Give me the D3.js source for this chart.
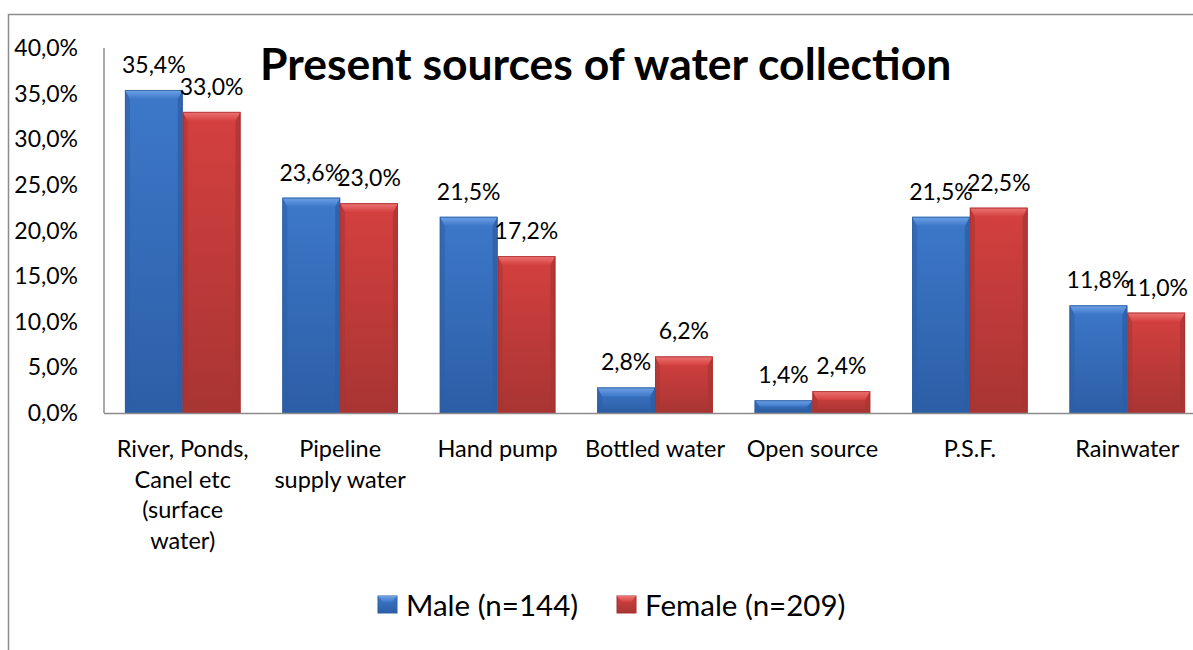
<!DOCTYPE html>
<html><head><meta charset="utf-8">
<script src="https://cdn.jsdelivr.net/npm/d3@7"></script>
<style>body{margin:0;background:#fff;} svg{display:block;}</style>
</head><body>
<script>
const categories = [["River, Ponds,","Canel etc","(surface","water)"],["Pipeline","supply water"],["Hand pump"],["Bottled water"],["Open source"],["P.S.F."],["Rainwater"]];
const male = [35.4, 23.6, 21.5, 2.8, 1.4, 21.5, 11.8];
const female = [33.0, 23.0, 17.2, 6.2, 2.4, 22.5, 11.0];
const seriesNames = ["Male (n=144)", "Female (n=209)"];
const yTicks = [0,5,10,15,20,25,30,35,40];

const W = 1193, H = 650;
const font = "Lato, 'Open Sans', sans-serif";
const svg = d3.select("body").append("svg").attr("width", W).attr("height", H);

const defs = svg.append("defs");
const colors = [{base:"#3d78c9", light:"#6fa3e6", dark:"#2c5ea6", edge:"#2f5f9f"},
                {base:"#d4403f", light:"#ec7674", dark:"#a83533", edge:"#a83030"}];
colors.forEach((c,i)=>{
  const g = defs.append("linearGradient").attr("id","g"+i).attr("x1","0").attr("x2","0").attr("y1","0").attr("y2","1");
  g.append("stop").attr("offset","0").attr("stop-color",c.base);
  g.append("stop").attr("offset","1").attr("stop-color",c.dark);
  const t = defs.append("linearGradient").attr("id","t"+i).attr("x1","0").attr("x2","0").attr("y1","0").attr("y2","1");
  t.append("stop").attr("offset","0").attr("stop-color",c.light);
  t.append("stop").attr("offset","1").attr("stop-color",c.base);
});

// outer frame
svg.append("rect").attr("x",8.5).attr("y",14.5).attr("width",1300).attr("height",1000)
  .attr("fill","none").attr("stroke","#8c8c8c").attr("stroke-width",1.5);

const plot = {left:104, right:1206, top:48, bottom:413};
const x = d3.scaleBand().domain(d3.range(categories.length)).range([plot.left, plot.right]).paddingInner(0.266).paddingOuter(0.133);
const xs = d3.scaleBand().domain([0,1]).range([0, x.bandwidth()]);
const y = d3.scaleLinear().domain([0,40]).range([plot.bottom, plot.top]);

// axes
svg.append("line").attr("x1",plot.left).attr("x2",plot.left).attr("y1",plot.top).attr("y2",plot.bottom).attr("stroke","#8c8c8c").attr("stroke-width",1.5);

const fmt = v => v.toFixed(1).replace(".", ",") + "%";
svg.append("g").selectAll("text").data(yTicks).join("text")
  .attr("x",78).attr("y",d=>y(d)).attr("dy","0.35em").attr("text-anchor","end")
  .attr("font-family",font).attr("font-size",23).attr("fill","#000").text(fmt);

// bars
const data = [];
categories.forEach((c,i)=>{ data.push({i, s:0, v:male[i]}); data.push({i, s:1, v:female[i]}); });
const bars = svg.append("g").selectAll("g").data(data).join("g");
bars.each(function(d){
  const g = d3.select(this);
  const x0 = x(d.i) + xs(d.s), w = xs.bandwidth(), y0 = y(d.v), y1 = y(0), h = y1 - y0;
  const c = colors[d.s];
  const bt = Math.min(9, h/2), bs = Math.min(5, w/4), bb = Math.min(4, h/2);
  g.append("rect").attr("x",x0).attr("y",y0).attr("width",w).attr("height",h).attr("fill","url(#g"+d.s+")");
  // side bevels
  g.append("polygon").attr("points",[[x0,y0],[x0+bs,y0+bt],[x0+bs,y1-bb],[x0,y1]].join(" ")).attr("fill",c.dark).attr("opacity",0.55);
  g.append("polygon").attr("points",[[x0+w,y0],[x0+w-bs,y0+bt],[x0+w-bs,y1-bb],[x0+w,y1]].join(" ")).attr("fill",c.dark).attr("opacity",0.75);
  // top bevel
  g.append("polygon").attr("points",[[x0,y0],[x0+w,y0],[x0+w-bs,y0+bt],[x0+bs,y0+bt]].join(" ")).attr("fill","url(#t"+d.s+")");
  // bottom bevel
  g.append("polygon").attr("points",[[x0,y1],[x0+w,y1],[x0+w-bs,y1-bb],[x0+bs,y1-bb]].join(" ")).attr("fill",c.dark).attr("opacity",0.8);
  g.append("rect").attr("x",x0+0.5).attr("y",y0+0.5).attr("width",w-1).attr("height",Math.max(0,h-1)).attr("fill","none").attr("stroke",c.edge).attr("stroke-width",1).attr("opacity",0.8);
});
svg.append("line").attr("x1",plot.left).attr("x2",plot.right).attr("y1",plot.bottom+0.5).attr("y2",plot.bottom+0.5).attr("stroke","#8c8c8c").attr("stroke-width",1.5);

// data labels
svg.append("g").selectAll("text").data(data).join("text")
  .attr("x",d=>x(d.i)+xs(d.s)+xs.bandwidth()/2)
  .attr("y",d=>y(d.v)-17)
  .attr("text-anchor","middle").attr("font-family",font).attr("font-size",23).attr("fill","#000")
  .text(d=>fmt(d.v));

// category labels
const cl = svg.append("g").selectAll("text").data(categories).join("text")
  .attr("x",(d,i)=>x(i)+x.bandwidth()/2).attr("y",457)
  .attr("text-anchor","middle").attr("font-family",font).attr("font-size",23.5).attr("fill","#000");
cl.each(function(lines){
  d3.select(this).selectAll("tspan").data(lines).join("tspan")
    .attr("x",d3.select(this).attr("x")).attr("dy",(d,j)=>j===0?0:30.6).text(d=>d);
});

// title
svg.append("text").attr("x",260).attr("y",80).attr("font-family",font).attr("font-weight","bold")
  .attr("font-size",44.5).attr("fill","#000").text("Present sources of water collection");

// legend
const legX = [378, 617];
const lg = svg.append("g").selectAll("g").data(seriesNames).join("g")
  .attr("transform",(d,i)=>`translate(${legX[i]},596)`);
lg.append("rect").attr("width",19).attr("height",17).attr("fill",(d,i)=>`url(#g${i})`).attr("stroke",(d,i)=>colors[i].edge);
lg.append("polygon").attr("points","0,0 19,0 14,6 5,6").attr("fill",(d,i)=>`url(#t${i})`);
lg.append("text").attr("x",28).attr("y",9).attr("dy","0.36em").attr("font-family",font).attr("font-size",29.5).attr("fill","#000").text(d=>d);
</script>
</body></html>
